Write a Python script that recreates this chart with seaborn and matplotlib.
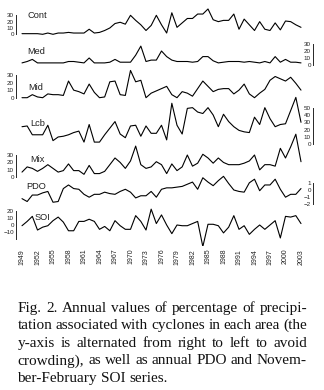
import numpy as np
import matplotlib
matplotlib.use('Agg')
import matplotlib.pyplot as plt
import seaborn as sns

# Annual series 1949-2003
years = np.arange(1949, 2004)
cont = [1, 1, 1, 1, 0, 2, 0, 2, 2, 3, 2, 2, 2, 8, 2, 3, 6, 10, 17, 19, 16, 30, 22, 15, 6,
        14, 30, 15, 2, 34, 11, 18, 25, 25, 32, 32, 40, 23, 20, 22, 22, 32, 8, 24, 15,
        6, 20, 8, 6, 18, 7, 21, 20, 15, 11]
med = [3, 5, 8, 3, 3, 3, 3, 3, 3, 5, 5, 4, 3, 10, 3, 3, 3, 4, 8, 4, 4, 4, 14, 27, 5,
       7, 7, 20, 12, 7, 5, 5, 5, 4, 5, 12, 12, 6, 3, 4, 5, 5, 5, 4, 5,
       4, 3, 5, 3, 12, 4, 8, 4, 4, 3]
mid = [0, 0, 4, 1, 0, 5, 4, 4, 3, 22, 10, 8, 5, 18, 7, 0, 1, 21, 22, 4, 3, 36, 21, 23, 0,
       6, 9, 12, 15, 4, 0, 8, 6, 2, 12, 22, 15, 8, 11, 12, 12, 5, 10, 18, 5,
       0, 6, 11, 23, 28, 25, 22, 27, 19, 10]
lcb = [24, 25, 13, 13, 13, 26, 5, 10, 11, 13, 16, 18, 3, 27, 3, 3, 13, 22, 31, 14, 9, 25, 26, 11, 25,
       15, 15, 26, 6, 56, 26, 14, 49, 50, 44, 42, 50, 40, 24, 41, 31, 24, 19, 17, 16,
       37, 27, 50, 35, 24, 27, 28, 46, 64, 30]
mix = [7, 14, 12, 8, 12, 17, 12, 7, 9, 18, 9, 9, 4, 16, 5, 5, 8, 17, 26, 20, 12, 22, 42, 17, 12,
       14, 21, 17, 5, 18, 9, 14, 30, 15, 19, 31, 26, 19, 26, 20, 17, 17, 17, 19, 22,
       30, 10, 17, 17, 15, 39, 26, 41, 58, 21]
pdo = [-1.2, -1.6, -0.7, -0.7, -0.4, -0.2, -1.7, -1.6, 0.2, 0.7, 0.2, 0.1, -0.6, -1.0, -0.6,
       -0.6, -0.3, -0.5, -0.6, -0.2, 0.1, -0.3, -1.1, -0.8, -0.8, -0.2, -1.0, 0.1, 0.3, 0.3,
       0.4, 0.5, 0.8, 1.1, 0.1, 1.7, 1.1, 0.6, 1.3, 1.9, 0.9, 0.0, -0.2, -0.3, 1.0,
       1.5, -0.1, 0.7, 0.7, 1.5, 0.1, -1.0, -0.6, -0.6, 0.2]
soi = [-1, 5, 12, -7, -3, -1, 6, 11, 4, -8, -8, 5, 5, 8, 5, -6, -2, -8, 6, -1, -6, -6, 13, 5, -7,
       22, 2, 14, 0, -12, 0, -1, -1, 2, 5, -30, 1, 1, -1, -11, -3, 13, -6, -1, -13,
       -6, 0, -6, 0, 6, -18, 12, 11, 13, 2]

names = ['Cont', 'Med', 'Mid', 'Lcb', 'Mix', 'PDO', 'SOI']
series = [cont, med, mid, lcb, mix, pdo, soi]
yticks = [[0, 10, 20, 30], [0, 10, 20, 30], [0, 10, 20, 30], [0, 10, 20, 30, 40, 50],
          [0, 10, 20, 30], [-2, -1, 0, 1], [-20, -10, 0, 10, 20]]
xtick_years = list(range(1949, 2004, 3))

caption = ["Fig. 2. Annual values of percentage of precipi-",
           "tation associated with cyclones in each area (the",
           "y-axis is alternated from right to left to avoid",
           "crowding), as well as annual PDO and Novem-",
           "ber-February SOI series."]

# layout in pixels (figure is 324 x 390)
W, H = 324, 390
zero_px = [34.3, 65, 97.7, 144.3, 177.3, 190, 225]      # where value 0 sits
scale_px = [0.633, 0.70, 0.757, 0.733, 0.743, 7.2, 0.72]  # px per unit
side = ['left', 'right', 'left', 'right', 'left', 'right', 'left']
label_xy = [(27, 15.5), (27.5, 52), (28, 88), (30, 123), (30, 160), (26.5, 186), (35, 217)]

px_year = (301 - 22) / 54.0


def yr(px):
    return 1949 + (px - 22) / px_year


AX_L, AX_R, AX_T, AX_B = 4, 320, 2, 246

sns.set_style('white')
plt.rcParams['font.family'] = ['Liberation Sans', 'DejaVu Sans']

fig = plt.figure(figsize=(W / 100, H / 100), dpi=100)
rect = [AX_L / W, 1 - AX_B / H, (AX_R - AX_L) / W, (AX_B - AX_T) / H]

for i, name in enumerate(names):
    ax = fig.add_axes(rect, label=name)
    ax.patch.set_visible(False)
    sns.lineplot(x=years, y=series[i], ax=ax, color='black', linewidth=0.8)
    ax.set_xlim(yr(AX_L), yr(AX_R))
    z, s = zero_px[i], scale_px[i]
    ax.set_ylim((z - AX_B) / s, (z - AX_T) / s)
    for sp in ['top', 'right', 'bottom']:
        ax.spines[sp].set_visible(False)
    spine_x = yr(16) if side[i] == 'left' else yr(313)
    ax.spines['left'].set_position(('data', spine_x))
    ax.spines['left'].set_linewidth(0.7)
    ax.spines['left'].set_bounds(yticks[i][0], yticks[i][-1])
    ax.set_yticks(yticks[i])
    labels = [('\u2212' + str(abs(t)) if t < 0 else str(t)) for t in yticks[i]]
    if name == 'SOI':
        labels[0] = ''
    ax.set_yticklabels(labels)
    ax.tick_params(axis='y', direction='in', length=2.2, width=0.6,
                   labelsize=4.5, pad=1.5, colors='#222222')
    ax.set_xlabel('')
    ax.set_ylabel('')
    if i == len(names) - 1:
        ax.set_xticks(xtick_years)
        ax.set_xticklabels([str(y) for y in xtick_years], rotation=90, fontsize=5, color='#222222')
        ax.tick_params(axis='x', length=0, pad=2)
    else:
        ax.set_xticks([])
    lx, ly = label_xy[i]
    fig.text(lx / W, 1 - ly / H, name, fontsize=6.7, ha='left', va='center', color='#222222')

# justified caption
renderer = fig.canvas.get_renderer()
cap_left, cap_right = 17.5, 307
baselines = [311.7, 329.3, 347, 364.5, 382]
for k, line in enumerate(caption):
    words = line.split()
    texts = [fig.text(0, 1 - baselines[k] / H, w, fontsize=11, family='Liberation Serif',
                      ha='left', va='baseline', color='#111111') for w in words]
    widths = [t.get_window_extent(renderer).width for t in texts]
    if k < len(caption) - 1 and len(words) > 1:
        gap = (cap_right - cap_left - sum(widths)) / (len(words) - 1)
    else:
        gap = 3.8
    x = cap_left
    for t, w in zip(texts, widths):
        t.set_x(x / W)
        x += w + gap

fig.savefig('out.png', dpi=100)
